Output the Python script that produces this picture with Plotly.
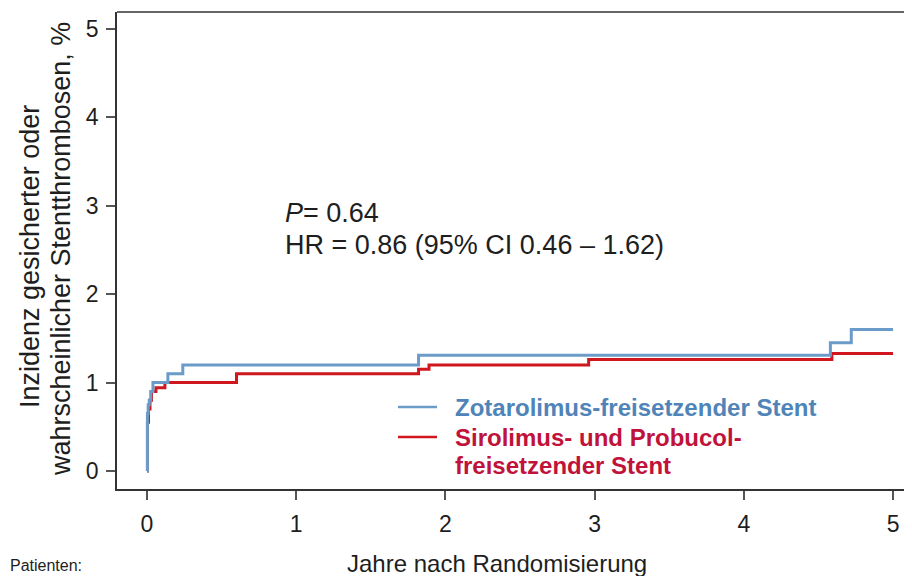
import plotly.graph_objects as go

# Data
zot_years = [0, 0.003, 0.008, 0.015, 0.025, 0.04, 0.14, 0.24, 1.82, 4.58, 4.72, 5.0]
zot_pct = [0, 0.65, 0.75, 0.8, 0.9, 1.0, 1.1, 1.2, 1.31, 1.45, 1.6, 1.6]

sir_years = [0, 0.003, 0.01, 0.02, 0.03, 0.06, 0.12, 0.6, 1.82, 1.89, 2.96, 4.59, 5.0]
sir_pct = [0, 0.55, 0.7, 0.8, 0.9, 0.94, 1.0, 1.1, 1.15, 1.2, 1.26, 1.33, 1.33]

x_ticks = [0, 1, 2, 3, 4, 5]
y_ticks = [0, 1, 2, 3, 4, 5]

zot_name = "Zotarolimus-freisetzender Stent"
sir_name_1 = "Sirolimus- und Probucol-"
sir_name_2 = "freisetzender Stent"
y_title_1 = "Inzidenz gesicherter oder"
y_title_2 = "wahrscheinlicher Stentthrombosen, %"
x_title = "Jahre nach Randomisierung"

BLUE = "#6b9bc8"
RED = "#d0161f"
BLUE_TXT = "#4f84b8"
RED_TXT = "#c0123a"
TXT = "#1e1e1e"
FONT = "Liberation Sans, Arial, sans-serif"

# page has an 8px body margin; plot area spans page x 117..912, y 12..489
PW, PH = 795, 477
def px(xp):
    return (xp - 117) / PW
def py(yp):
    return (489 - yp) / PH

fig = go.Figure()
fig.add_trace(go.Scatter(x=sir_years, y=sir_pct, mode="lines", line=dict(color=RED, width=3, shape="hv"),
                         name="Sirolimus", showlegend=False))
fig.add_trace(go.Scatter(x=zot_years, y=zot_pct, mode="lines", line=dict(color=BLUE, width=3, shape="hv"),
                         name="Zotarolimus", showlegend=False))

# Legend drawn as shapes + annotations
fig.add_shape(type="line", xref="paper", yref="paper", x0=px(398), x1=px(437), y0=py(407), y1=py(407),
              line=dict(color=BLUE, width=2.5))
fig.add_shape(type="line", xref="paper", yref="paper", x0=px(398), x1=px(437), y0=py(437), y1=py(437),
              line=dict(color=RED, width=2.5))
fig.add_annotation(xref="paper", yref="paper", x=px(453), y=py(407), text="<b>" + zot_name + "</b>",
                   showarrow=False, xanchor="left", yanchor="middle",
                   font=dict(family=FONT, size=24, color=BLUE_TXT))
fig.add_annotation(xref="paper", yref="paper", x=px(453), y=py(437), text="<b>" + sir_name_1 + "</b>",
                   showarrow=False, xanchor="left", yanchor="middle",
                   font=dict(family=FONT, size=24, color=RED_TXT))
fig.add_annotation(xref="paper", yref="paper", x=px(453), y=py(465), text="<b>" + sir_name_2 + "</b>",
                   showarrow=False, xanchor="left", yanchor="middle",
                   font=dict(family=FONT, size=24, color=RED_TXT))

# Statistics text
fig.add_annotation(xref="paper", yref="paper", x=px(283), y=py(213), text="<i>P</i>= 0.64",
                   showarrow=False, xanchor="left", yanchor="middle",
                   font=dict(family=FONT, size=27, color=TXT))
fig.add_annotation(xref="paper", yref="paper", x=px(283), y=py(245), text="HR = 0.86 (95% CI 0.46 – 1.62)",
                   showarrow=False, xanchor="left", yanchor="middle",
                   font=dict(family=FONT, size=27, color=TXT))

# Axis titles
fig.add_annotation(xref="paper", yref="paper", x=px(497), y=py(563), text=x_title,
                   showarrow=False, xanchor="center", yanchor="middle",
                   font=dict(family=FONT, size=24, color=TXT))
fig.add_annotation(xref="paper", yref="paper", x=px(30), y=py(257), text=y_title_1,
                   textangle=-90, showarrow=False, xanchor="center", yanchor="middle",
                   font=dict(family=FONT, size=27, color=TXT))
fig.add_annotation(xref="paper", yref="paper", x=px(61), y=py(249), text=y_title_2,
                   textangle=-90, showarrow=False, xanchor="center", yanchor="middle",
                   font=dict(family=FONT, size=27, color=TXT))

# Bottom-left label (cut off in the original; kept fully visible here)
fig.add_annotation(xref="paper", yref="paper", x=px(8), y=py(576), text="Patienten:",
                   showarrow=False, xanchor="left", yanchor="bottom",
                   font=dict(family=FONT, size=16, color=TXT))

fig.update_layout(
    width=904, height=568,
    margin=dict(l=109, r=0, t=4, b=87, autoexpand=False),
    paper_bgcolor="white", plot_bgcolor="white",
    font=dict(family=FONT, size=23, color=TXT),
    xaxis=dict(range=[-0.201, 5.127], tickvals=x_ticks, ticktext=[str(v) for v in x_ticks],
               showgrid=False, zeroline=False, showline=True, linecolor="#333333", linewidth=1.5,
               mirror=False, ticks="outside", ticklen=9, tickcolor="#555555", tickwidth=1.5,
               tickfont=dict(size=23, color=TXT), ticklabelstandoff=5, automargin=False),
    yaxis=dict(range=[-0.204, 5.192], tickvals=y_ticks, ticktext=[str(v) for v in y_ticks],
               showgrid=False, zeroline=False, showline=True, linecolor="#333333", linewidth=1.5,
               ticks="outside", ticklen=9, tickcolor="#555555", tickwidth=1.5,
               tickfont=dict(size=23, color=TXT), ticklabelstandoff=3, automargin=False),
)
# Top frame line
fig.add_shape(type="line", xref="paper", yref="paper", x0=0, x1=1, y0=1, y1=1,
              line=dict(color="#333333", width=1.5))

fig.write_html("out.html")
